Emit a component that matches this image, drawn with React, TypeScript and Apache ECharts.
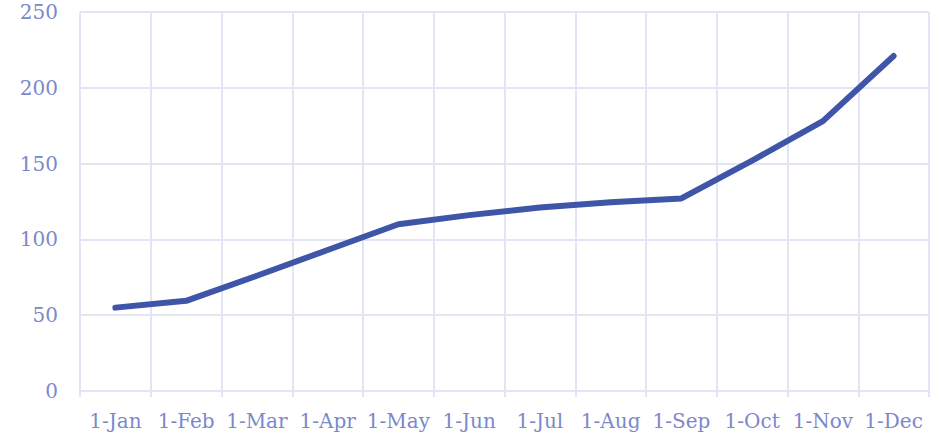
import React, { useEffect, useRef } from "react";
import * as echarts from "echarts";

const categories = ["1-Jan", "1-Feb", "1-Mar", "1-Apr", "1-May", "1-Jun", "1-Jul", "1-Aug", "1-Sep", "1-Oct", "1-Nov", "1-Dec"];
const values = [55, 59.5, 76, 93, 110, 116, 121, 124.5, 127, 152, 178, 221];

const FONT = "'DejaVu Serif', 'Liberation Serif', serif";
const TEXT_COLOR = "#7b88cc";
const GRID_COLOR = "#e2e5f4";

export default function App() {
  const ref = useRef<HTMLDivElement>(null);
  useEffect(() => {
    const chart = echarts.init(ref.current!, null, { renderer: "svg" });
    chart.setOption({
      animation: false,
      backgroundColor: "#ffffff",
      grid: { left: 80, right: 13, top: 12, bottom: 42, containLabel: false },
      xAxis: {
        type: "category",
        data: categories,
        boundaryGap: true,
        axisLine: { show: true, lineStyle: { color: GRID_COLOR, width: 2 } },
        axisTick: { show: true, length: 6, lineStyle: { color: GRID_COLOR, width: 2 } },
        axisLabel: { color: TEXT_COLOR, fontFamily: FONT, fontSize: 20, margin: 20, interval: 0 },
        splitLine: { show: true, lineStyle: { color: GRID_COLOR, width: 2 } },
      },
      yAxis: {
        type: "value",
        min: 0,
        max: 250,
        interval: 50,
        axisLine: { show: false },
        axisTick: { show: false },
        axisLabel: { color: TEXT_COLOR, fontFamily: FONT, fontSize: 20, margin: 22 },
        splitLine: { show: true, lineStyle: { color: GRID_COLOR, width: 2 } },
      },
      series: [
        {
          type: "line",
          data: values,
          showSymbol: false,
          symbol: "none",
          lineStyle: { color: "#3f55a8", width: 6, cap: "round", join: "round" },
        },
      ],
    });
    return () => chart.dispose();
  }, []);
  return (
    <div
      ref={ref}
      style={{ position: "fixed", left: 0, top: 0, width: 942, height: 433, background: "#fff" }}
    />
  );
}
